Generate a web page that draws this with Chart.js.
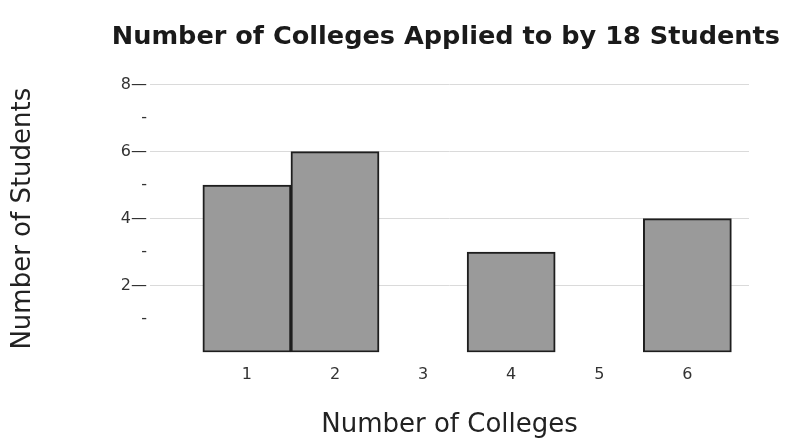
<!DOCTYPE html>
<html>
<head>
<meta charset="utf-8">
<script src="https://cdn.jsdelivr.net/npm/chart.js@4"></script>
<style>
  html, body { margin: 0; padding: 0; background: #fff; }
  #wrap { width: 785px; height: 441px; }
</style>
</head>
<body>
<div id="wrap"><canvas id="chart" width="785" height="441"></canvas></div>
<script>
// Data
const colleges = [1, 2, 3, 4, 5, 6];
const students = [5, 6, 0, 3, 0, 4];
const yTicks = [0, 1, 2, 3, 4, 5, 6, 7, 8];

const FONT = "'DejaVu Sans', 'Liberation Sans', Arial, sans-serif";

const ctx = document.getElementById("chart").getContext("2d");

new Chart(ctx, {
    type: "bar",
    data: {
        datasets: [{
            data: colleges.map((c, i) => ({ x: c, y: students[i] })),
            backgroundColor: "#9a9a9a",
            borderColor: "#1e1e1e",
            borderWidth: 2,
            borderSkipped: false,
            barPercentage: 1,
            categoryPercentage: 1
        }]
    },
    options: {
        responsive: false,
        animation: false,
        layout: { padding: { left: 8, right: 5, top: 0, bottom: 0 } },
        plugins: {
            legend: { display: false },
            tooltip: { enabled: false },
            title: {
                display: true,
                text: "Number of Colleges Applied to by 18 Students",
                align: "end",
                color: "#1a1a1a",
                font: { family: FONT, size: 25.6, weight: "bold" },
                padding: { top: 22, bottom: 32 }
            }
        },
        scales: {
            x: {
                type: "linear",
                offset: false,
                min: -0.1,
                max: 6.7,
                afterBuildTicks: scale => { scale.ticks = colleges.map(v => ({ value: v })); },
                grid: { display: false },
                border: { display: false },
                ticks: {
                    color: "#333",
                    padding: 5,
                    maxRotation: 0,
                    font: { family: FONT, size: 16 }
                },
                title: {
                    display: true,
                    text: "Number of Colleges",
                    color: "#222",
                    font: { family: FONT, size: 26 },
                    padding: { top: 20, bottom: 0 }
                }
            },
            y: {
                min: 0,
                max: 8,
                afterBuildTicks: scale => { scale.ticks = yTicks.map(v => ({ value: v })); },
                afterFit: scale => { scale.width = 142; },
                grid: {
                    drawTicks: false,
                    color: c => (c.tick && c.tick.value > 0 && c.tick.value % 2 === 0) ? "#dadada" : "rgba(0,0,0,0)"
                },
                border: { display: false },
                ticks: {
                    color: "#333",
                    padding: 3,
                    font: { family: FONT, size: 16 },
                    callback: v => v === 0 ? "" : (v % 2 === 0 ? v + "\u2014" : "-")
                },
                title: {
                    display: true,
                    text: "Number of Students",
                    color: "#222",
                    font: { family: FONT, size: 26 },
                    padding: 0
                }
            },
            yRight: {
                position: "right",
                display: true,
                grid: { display: false },
                border: { display: false },
                ticks: { display: false },
                afterFit: scale => { scale.width = 31; }
            }
        }
    }
});
</script>
</body>
</html>
